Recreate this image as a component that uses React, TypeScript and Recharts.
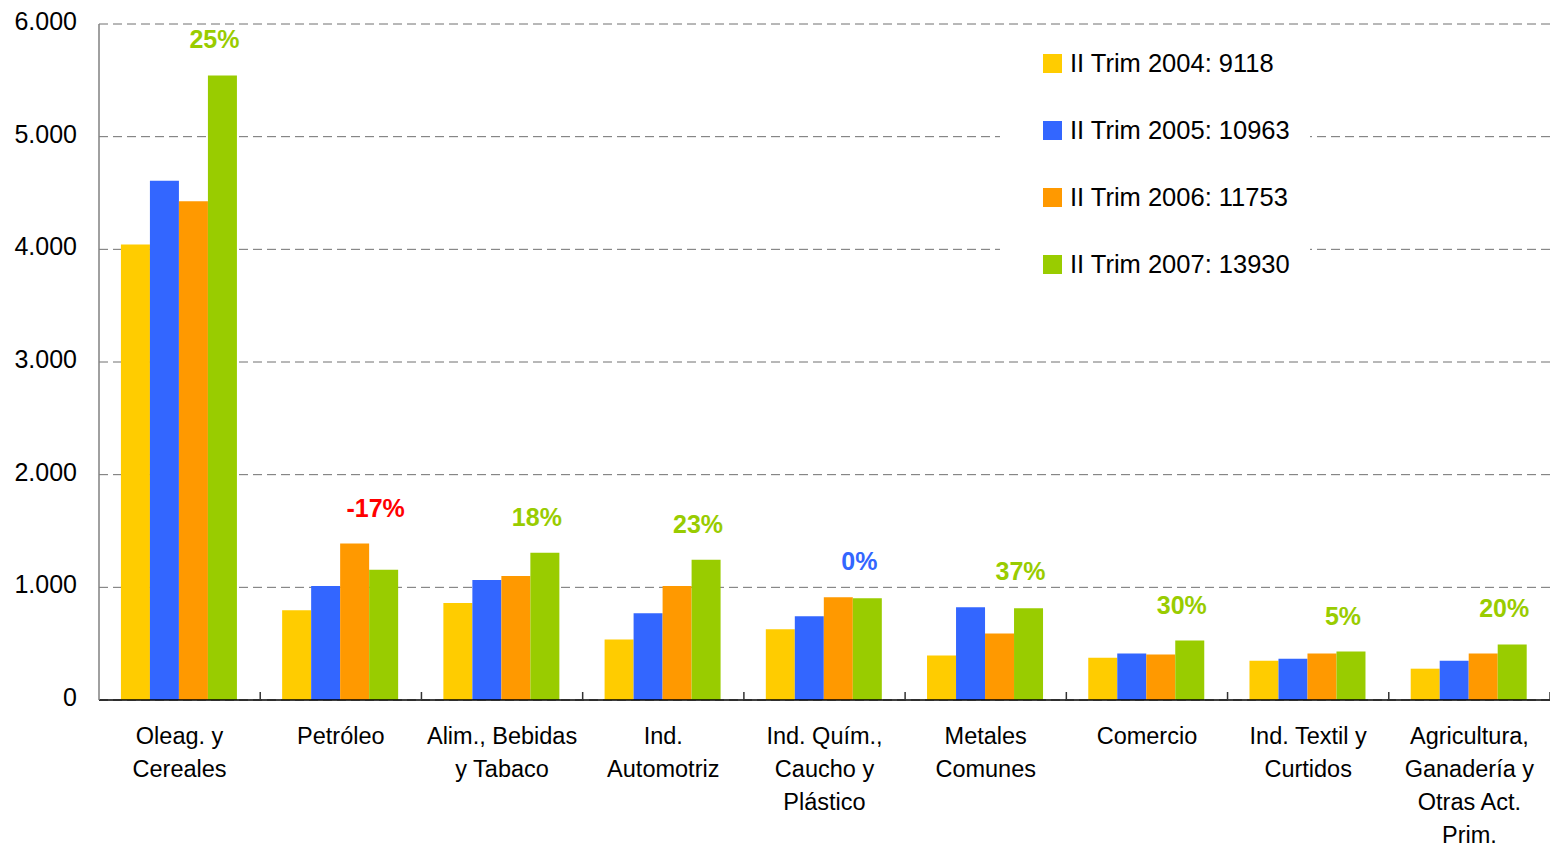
import { Bar, BarChart, CartesianGrid, LabelList, Legend, XAxis, YAxis } from "recharts";

const categories = [
  "Oleag. y\nCereales",
  "Petróleo",
  "Alim., Bebidas\ny Tabaco",
  "Ind.\nAutomotriz",
  "Ind. Quím.,\nCaucho y\nPlástico",
  "Metales\nComunes",
  "Comercio",
  "Ind. Textil y\nCurtidos",
  "Agricultura,\nGanadería y\nOtras Act.\nPrim.",
];
const trim2004 = [4043, 797, 860, 537, 627, 394, 376, 349, 278];
const trim2005 = [4609, 1012, 1066, 770, 743, 824, 412, 367, 349];
const trim2006 = [4426, 1388, 1101, 1012, 913, 591, 403, 412, 412];
const trim2007 = [5543, 1155, 1307, 1245, 904, 815, 528, 430, 493];
const variation = [25, -17, 18, 23, 0, 37, 30, 5, 20];
const seriesNames = ["II Trim 2004: 9118", "II Trim 2005: 10963", "II Trim 2006: 11753", "II Trim 2007: 13930"];
const yTicks = [0, 1000, 2000, 3000, 4000, 5000, 6000];

const COLORS = ["#FFCC00", "#3366FF", "#FF9900", "#99CC00"];
const FONT = "'Liberation Sans', Arial, sans-serif";
const WIDTH = 1550;
const HEIGHT = 853;
const AXIS_LEFT = 99;

const data = categories.map((name, i) => ({
  name,
  t2004: trim2004[i],
  t2005: trim2005[i],
  t2006: trim2006[i],
  t2007: trim2007[i],
}));

const formatThousands = (v: number) => String(v).replace(/\B(?=(\d{3})+(?!\d))/g, ".");

const variationColor = (v: number) => (v < 0 ? "#FF0000" : v === 0 ? "#3366FF" : "#99CC00");

function CategoryTick({ x, y, payload }: any) {
  const half = (WIDTH - AXIS_LEFT) / categories.length / 2;
  const lines = String(payload.value).split("\n");
  return (
    <g>
      <line x1={x + half} x2={x + half} y1={y} y2={y - 8} stroke="#333" strokeWidth={1.5} />
      <text x={x} y={y + 44} textAnchor="middle" fill="#000" fontSize={23.5} fontFamily={FONT}>
        {lines.map((line, i) => (
          <tspan key={i} x={x} dy={i === 0 ? 0 : 33}>
            {line}
          </tspan>
        ))}
      </text>
    </g>
  );
}

function VariationLabel(props: any) {
  const vb = props.viewBox ?? props;
  const { x, y, width, height } = vb;
  const index = props.index;
  if (x == null || index == null) return null;
  const h = Math.abs(height);
  const bottom = y + h;
  const scale = h / trim2007[index];
  const groupMax = Math.max(trim2004[index], trim2005[index], trim2006[index], trim2007[index]);
  const top = bottom - groupMax * scale;
  const v = variation[index];
  return (
    <text
      x={x + width / 2 - 8}
      y={top - 27}
      textAnchor="middle"
      fill={variationColor(v)}
      fontSize={25}
      fontWeight="bold"
      fontFamily={FONT}
    >
      {`${v}%`}
    </text>
  );
}

function LegendBox() {
  return (
    <div style={{ background: "#fff", width: 310, height: 254, position: "relative", fontFamily: FONT }}>
      {seriesNames.map((name, i) => (
        <div
          key={name}
          style={{ position: "absolute", left: 43, top: 12 + i * 67, height: 30, display: "flex", alignItems: "center" }}
        >
          <span style={{ display: "inline-block", width: 19, height: 19, background: COLORS[i], marginRight: 8 }} />
          <span style={{ fontSize: 25.5, color: "#000", whiteSpace: "nowrap" }}>{name}</span>
        </div>
      ))}
    </div>
  );
}

export default function App() {
  return (
    <div style={{ position: "absolute", left: 0, top: 0, width: WIDTH, height: HEIGHT, background: "#fff" }}>
      <BarChart
        width={WIDTH}
        height={HEIGHT}
        data={data}
        margin={{ top: 24, right: 0, bottom: 123, left: 0 }}
        barCategoryGap="13.6%"
        barGap={0}
      >
        <CartesianGrid vertical={false} stroke="#707070" strokeDasharray="9 5" />
        <XAxis
          dataKey="name"
          interval={0}
          height={30}
          tickLine={false}
          tickSize={0}
          tickMargin={0}
          axisLine={{ stroke: "#000", strokeWidth: 1.5 }}
          tick={<CategoryTick />}
        />
        <YAxis
          width={AXIS_LEFT}
          domain={[0, 6000]}
          ticks={yTicks}
          tickLine={false}
          tickSize={0}
          tickMargin={22}
          axisLine={{ stroke: "#808080", strokeWidth: 1.5 }}
          tickFormatter={formatThousands}
          tick={{ fill: "#000", fontSize: 25, fontFamily: FONT, dy: -3 }}
        />
        <Legend
          layout="vertical"
          align="center"
          verticalAlign="middle"
          content={<LegendBox />}
          wrapperStyle={{ position: "absolute", left: 1000, top: 36, width: 310, height: 254 }}
        />
        <Bar dataKey="t2004" name={seriesNames[0]} fill={COLORS[0]} isAnimationActive={false} />
        <Bar dataKey="t2005" name={seriesNames[1]} fill={COLORS[1]} isAnimationActive={false} />
        <Bar dataKey="t2006" name={seriesNames[2]} fill={COLORS[2]} isAnimationActive={false} />
        <Bar dataKey="t2007" name={seriesNames[3]} fill={COLORS[3]} isAnimationActive={false}>
          <LabelList dataKey="t2007" content={<VariationLabel />} />
        </Bar>
      </BarChart>
    </div>
  );
}
